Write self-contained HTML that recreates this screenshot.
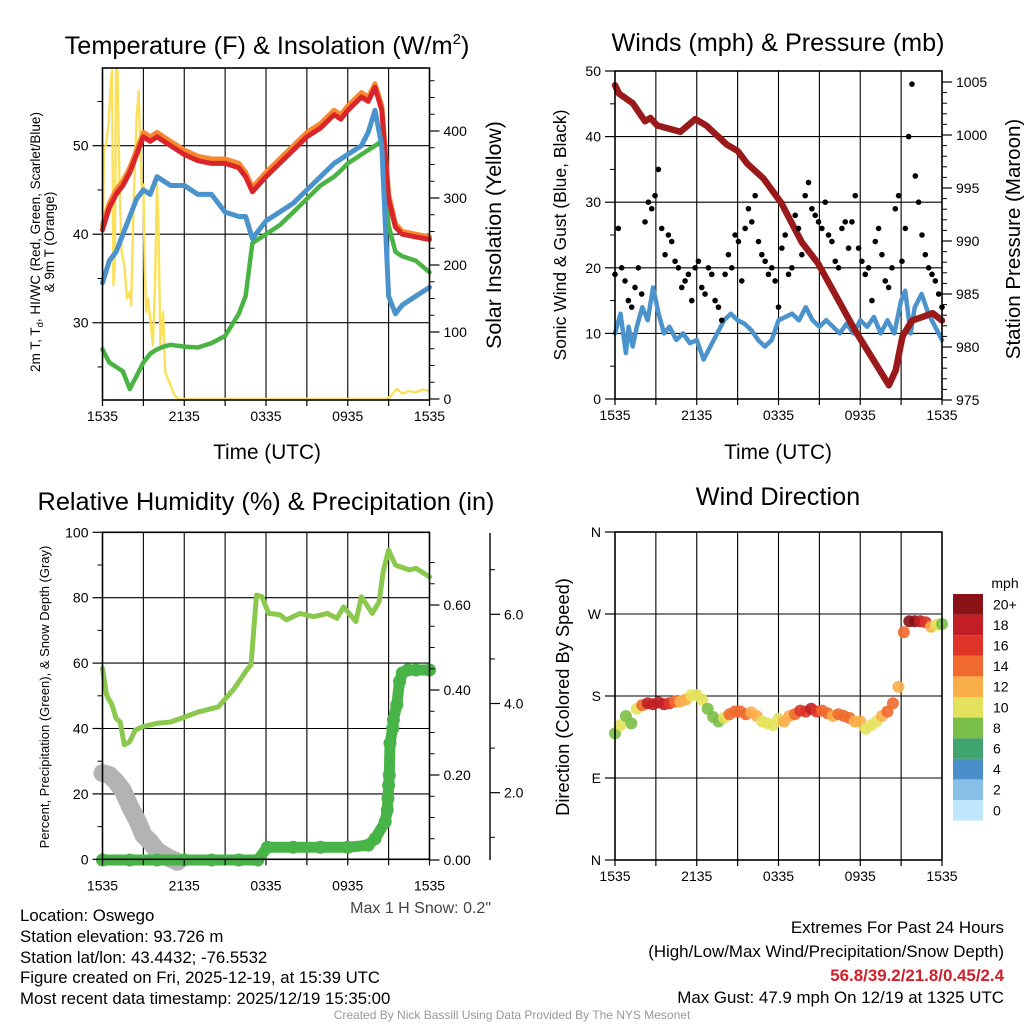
<!DOCTYPE html>
<html><head><meta charset="utf-8"><title>Oswego Meteogram</title>
<style>
html,body{margin:0;padding:0;background:#fff;}
svg{display:block;font-family:"Liberation Sans",Arial,sans-serif;}
</style></head>
<body>
<svg id="chart" width="1024" height="1024" viewBox="0 0 1024 1024" xmlns="http://www.w3.org/2000/svg">
<defs>
<clipPath id="clip1"><rect x="102.5" y="68" width="327" height="332"/></clipPath>
</defs>
<rect x="0" y="0" width="1024" height="1024" fill="#fff"/>
<g id="g1"></g>
<g id="g2"></g>
<g id="g3"></g>
<g id="g4"></g>

<text x="267" y="54" font-size="25.3" text-anchor="middle">Temperature (F) &amp; Insolation (W/m<tspan dy="-10" font-size="15">2</tspan><tspan dy="10">)</tspan></text>
<text x="778" y="51" font-size="25.2" text-anchor="middle">Winds (mph) &amp; Pressure (mb)</text>
<text x="266" y="510" font-size="25.3" text-anchor="middle">Relative Humidity (%) &amp; Precipitation (in)</text>
<text x="778" y="505" font-size="25.3" text-anchor="middle">Wind Direction</text>

<text x="267" y="459" font-size="20.8" text-anchor="middle">Time (UTC)</text>
<text x="778" y="459" font-size="20.8" text-anchor="middle">Time (UTC)</text>

<text transform="translate(40,242) rotate(-90)" font-size="13.5" text-anchor="middle">2m T, T<tspan font-size="9.5" dy="3">d</tspan><tspan dy="-3">, HI/WC (Red, Green, Scarlet/Blue)</tspan></text>
<text transform="translate(54,242) rotate(-90)" font-size="13.5" text-anchor="middle">&amp; 9m T (Orange)</text>
<text transform="translate(501,235) rotate(-90)" font-size="21.3" text-anchor="middle">Solar Insolation (Yellow)</text>
<text transform="translate(566,235) rotate(-90)" font-size="17.5" text-anchor="middle">Sonic Wind &amp; Gust (Blue, Black)</text>
<text transform="translate(1020,239) rotate(-90)" font-size="20.5" text-anchor="middle">Station Pressure (Maroon)</text>
<text transform="translate(49,697) rotate(-90)" font-size="13" text-anchor="middle">Percent, Precipitation (Green), &amp; Snow Depth (Gray)</text>
<text transform="translate(569,697) rotate(-90)" font-size="18.3" text-anchor="middle">Direction (Colored By Speed)</text>

<text x="491" y="913" font-size="16" fill="#444" text-anchor="end">Max 1 H Snow: 0.2"</text>

<g font-size="16.8">
<text x="20" y="921">Location: Oswego</text>
<text x="20" y="942">Station elevation: 93.726 m</text>
<text x="20" y="963">Station lat/lon: 43.4432; -76.5532</text>
<text x="20" y="983">Figure created on Fri, 2025-12-19, at 15:39 UTC</text>
<text x="20" y="1004">Most recent data timestamp: 2025/12/19 15:35:00</text>
</g>
<g font-size="16.9" text-anchor="end">
<text x="1004" y="933">Extremes For Past 24 Hours</text>
<text x="1004" y="957">(High/Low/Max Wind/Precipitation/Snow Depth)</text>
<text x="1004" y="981" fill="#d0202a" font-weight="bold">56.8/39.2/21.8/0.45/2.4</text>
<text x="1004" y="1003">Max Gust: 47.9 mph On 12/19 at 1325 UTC</text>
</g>
<text x="512" y="1019" font-size="12" fill="#999" text-anchor="middle">Created By Nick Bassill Using Data Provided By The NYS Mesonet</text>
</svg>
<script>
// ---------- DATA ----------
const timeLabels = ["1535","2135","0335","0935","1535"];
// Panel 1 (hours since start, values)
const tempHours = [0,0.5,1,1.5,2,2.5,3,3.5,4,4.5,5,6,7,8,9,10,10.5,11,12,13,14,15,16,17,17.5,18,19,19.5,20,20.5,21,21.5,22,23,24];
const tempRed   = [40.5,43,44.5,45.5,47,49,51,50.5,51,50.5,50,49,48.3,48,48,47.5,46.5,44.8,46.5,48,49.5,51,52,53.5,53,54,55.5,55,56.6,54,44,40.8,40,39.7,39.4];
const tempOrange= [41,43.5,45,46,47.5,49.5,51.5,51,51.5,51,50.5,49.5,48.8,48.5,48.5,48,47,45.3,47,48.5,50,51.5,52.5,54,53.5,54.5,56,55.5,57,54.5,44.5,41.2,40.3,40,39.7];
const tempBlue  = [34.5,37,38,40,42,44,45,44.5,46.5,46,45.5,45.5,44.5,44.5,42.5,42,42,39.5,41.5,42.5,43.5,45,46.5,48,48.5,49,50,51.5,54,50,33,31,32,33,34];
const tempGreen = [27,25.5,25,24.5,22.5,24,25.5,26.5,27,27.3,27.5,27.3,27.2,27.7,28.5,31,33,39,40,41,42.5,44,45.5,46.5,47.2,48,49,49.5,50,50.5,41,38,37.5,37,35.7];
const solarHours = [0,0.1,0.25,0.45,0.6,0.7,0.8,0.9,1.0,1.1,1.25,1.4,1.6,1.8,2.0,2.1,2.3,2.5,2.65,2.8,2.9,3.0,3.1,3.2,3.35,3.5,3.7,3.85,4.0,4.1,4.25,4.45,4.6,4.9,5.3,5.6,20.8,21.2,21.6,22,22.5,23,23.5,24];
const solarVals  = [190,370,380,410,470,490,170,200,495,490,320,220,200,150,160,140,300,420,460,360,310,320,200,130,150,120,80,170,320,260,80,130,40,25,5,0,0,5,15,8,12,10,14,12];
const tempTicks = [30,40,50];
const solarTicks = [0,100,200,300,400];
// Panel 2
const presHours = [0,0.3,1.3,2.2,2.6,3.1,4.8,5.9,6.7,8.2,9,9.7,10.9,12.2,13.7,14.9,16.1,17.6,19.1,20.1,20.6,21.1,21.8,22.5,23.3,24];
const presVals  = [1004.7,1003.9,1003.0,1001.3,1001.6,1000.9,1000.3,1001.5,1000.9,999.1,998.5,997.3,995.9,993.6,989.9,987.9,985.1,981.6,978.5,976.4,977.8,981.0,982.5,982.8,983.2,982.5];
const windHours = [0,0.4,0.8,1.0,1.3,1.6,2.0,2.4,2.8,3.2,3.6,4.0,4.5,5.0,5.5,6.0,6.5,7.0,7.5,8.0,8.5,9.0,9.5,10.0,10.5,11.0,11.5,12,12.5,13,13.5,14,14.5,15,15.5,16,16.5,17,17.5,18,18.5,19,19.5,20,20.5,21,21.3,21.7,22,22.5,23,23.5,24];
const windVals  = [10,13,7,11,8,11,14,12,17,13,10,11,9,10,8.5,9,6,8,10,12,13,12,11.5,10.5,9,8,9,12,12.5,13,12,14,12,11,12,11,10,11.5,10,12,11,12.5,10,12,10,15,16.5,10,14,16,13,11,9];
const gustVals  = [19,26,20,18,15,14,17,20,16,27,30,29,31,35,26,22,25,24,21,20,17,18,19,15,20,21,17,16,20,19,15,14,12,19,22,20,25,24,18,26,29,27,31,24,22,21,19,20,18,14,23,25,19,20,28,26,22,31,33,29,28,27,26,30,25,24,21,20,26,27,23,27,31,23,21,19,20,15,24,26,22,18,17,20,29,31,21,26,40,48,34,30,25,22,20,19,18,16,14];
const windTicks = [0,10,20,30,40,50];
const presTicks = [975,980,985,990,995,1000,1005];
// Panel 3
const rhHours = [0,0.3,0.7,1.0,1.3,1.6,2,2.4,3,4,5,6,7,8.5,9.7,10.5,10.9,11.3,11.7,12.2,13,13.5,14.5,15.5,16.5,17.2,17.7,18.6,19,19.8,20.3,20.6,21,21.5,22.5,23,24];
const rhVals  = [58.4,50.2,47.2,43.1,42,35,36,39.5,40.6,41.6,42,43.5,45,46.6,52.4,57.4,59.5,80.8,80.3,75.2,74.8,73.2,75.2,74.2,75.2,73.7,77.2,72.7,80.3,75.2,78.8,88,94.6,90,88.5,89,86.4];
const precipHours = [0,2,4,6,8,10,11.4,12.1,14,16,18,19.5,20.0,20.75,20.9,20.95,21.0,21.05,21.1,21.3,21.35,21.6,21.8,22.0,22.4,23,24];
const precipVals  = [0,0,0,0,0,0,0,0.03,0.03,0.03,0.03,0.035,0.05,0.09,0.118,0.145,0.176,0.2,0.275,0.31,0.33,0.365,0.42,0.44,0.447,0.447,0.447];
const snowHours = [0,0.5,1.0,1.5,2,2.6,3,3.5,4,4.8,5.5];
const snowVals  = [2.44,2.4,2.25,2.05,1.7,1.35,1.05,0.9,0.7,0.55,0.45];
const rhTicks = [0,20,40,60,80,100];
const precipTicks = [0,0.2,0.4,0.6];
const snowTicks = [2,4,6];
// Panel 4
const dirVals = [139,148,158,150,166,170,172,171,173,171,172,174,174,176,181,181,176,166,157,152,156,160,163,163,160,162,158,152,150,148,155,152,158,160,164,163,166,163,164,161,158,160,158,156,152,152,144,148,152,158,163,172,190,250,262,262,262,261,256,258,259];
const dirSpeeds = [8,9,7,8,10,13,17,18,17,18,16,14,12,12,10,9,10,7,7,8,9,13,14,14,13,12,12,10,10,9,10,11,12,13,15,16,18,16,14,13,12,13,14,13,12,11,10,9,10,12,14,13,11,14,20,19,17,15,12,10,8];
const dirLabels = ["N","E","S","W","N"];
const speedBins = ["0","2","4","6","8","10","12","14","16","18","20+"];
const speedColors = ["#bfe6fa","#86c0e6","#4a8fc9","#3fa46d","#7abf47","#e4e25c","#f9ae48","#ef6a2c","#de3428","#c11f25","#8a1217"];

// ---------- HELPERS ----------
const NS="http://www.w3.org/2000/svg";
function mk(tag, attrs, parent){const e=document.createElementNS(NS,tag);for(const k in attrs)e.setAttribute(k,attrs[k]);parent.appendChild(e);return e;}
function scale(d0,d1,r0,r1){return v=>r0+(v-d0)*(r1-r0)/(d1-d0);}
function pathFrom(xs,ys,fx,fy){return xs.map((x,i)=>(i?"L":"M")+fx(x).toFixed(1)+","+fy(ys[i]).toFixed(1)).join("");}

function frame(g, X0,Y0,X1,Y1, yVals, fy){
  for(let h=3;h<24;h+=3){
    const x=X0+(X1-X0)*h/24;
    const l=mk("line",{x1:x,y1:Y0,x2:x,y2:Y1,stroke:"#000","stroke-width":1.1},g);
    
    
  }
  yVals.forEach(v=>{
    const y=fy(v);
    const l=mk("line",{x1:X0,y1:y,x2:X1,y2:y,stroke:"#000","stroke-width":1.1},g);
    
    
  });
}
function border(g,X0,Y0,X1,Y1){
  const r=mk("rect",{x:X0,y:Y0,width:X1-X0,height:Y1-Y0,fill:"none",stroke:"#000","stroke-width":1.6},g);
  
  
}
function xAxis(g,X0,X1,Yb,off){
  for(let h=0;h<=24;h+=3){
    const x=X0+(X1-X0)*h/24;
    mk("line",{x1:x,y1:Yb,x2:x,y2:Yb+6,stroke:"#000","stroke-width":1.2},g);
  }
  timeLabels.forEach((t,i)=>{
    const x=X0+(X1-X0)*i*6/24;
    const tx=mk("text",{x:x,y:Yb+(off||21),"font-size":14,"text-anchor":"middle"},g);
    tx.textContent=t;
    
    
  });
}
function yAxisTicks(g,X,vals,fy,side,labels,minor,fs){
  const dir=side==="left"?-1:1;
  if(minor) minor.forEach(v=>{const y=fy(v);mk("line",{x1:X,y1:y,x2:X+dir*5,y2:y,stroke:"#000","stroke-width":1},g);});
  vals.forEach((v,i)=>{
    const y=fy(v);
    mk("line",{x1:X,y1:y,x2:X+dir*10,y2:y,stroke:"#000","stroke-width":1.2},g);
    const tx=mk("text",{x:X+dir*14,y:y+5,"font-size":fs||14,"text-anchor":side==="left"?"end":"start"},g);
    tx.textContent=labels[i];
    
    
  });
}
function line(g,xs,ys,fx,fy,color,w,name){
  const p=mk("path",{d:pathFrom(xs,ys,fx,fy),fill:"none",stroke:color,"stroke-width":w,"stroke-linejoin":"round","stroke-linecap":"round"},g);
  
  
  return p;
}

// ---------- PANEL 1 ----------
(function(){
  const g=document.getElementById("g1");
  const X0=102.5,X1=429.5,Y0=68,Y1=400;
  const fx=scale(0,24,X0,X1);
  const fy=scale(30,40,322.7,234.2);
  const fs=scale(0,100,399,332);
  frame(g,X0,Y0,X1,Y1,tempTicks,fy);
  const sl=line(g,solarHours,solarVals,fx,fs,"#fbe05a",2.4,"solar-insolation-line");
  sl.setAttribute("clip-path","url(#clip1)");
  line(g,tempHours,tempGreen,fx,fy,"#4ab443",4.5,"heat-index-wind-chill-line");
  line(g,tempHours,tempOrange,fx,fy,"#f7882f",5,"temp-9m-line");
  line(g,tempHours,tempRed,fx,fy,"#d9252a",5,"temp-2m-line");
  line(g,tempHours,tempBlue,fx,fy,"#4b93cc",5,"dewpoint-line");
  border(g,X0,Y0,X1,Y1);
  xAxis(g,X0,X1,Y1);
  yAxisTicks(g,X0,tempTicks,fy,"left",tempTicks.map(String),[25,35,45,55]);
  const minorS=[];for(let s=25;s<=475;s+=25)if(s%100)minorS.push(s);
  yAxisTicks(g,X1,solarTicks,fs,"right",solarTicks.map(String),minorS);
})();

// ---------- PANEL 2 ----------
(function(){
  const g=document.getElementById("g2");
  const X0=615,X1=942,Y0=71,Y1=399;
  const fx=scale(0,24,X0,X1);
  const fy=scale(0,50,Y1,Y0);
  const fp=scale(975,1005,400,82);
  frame(g,X0,Y0,X1,Y1,windTicks.slice(1,5),fy);
  line(g,windHours,windVals,fx,fy,"#4b93cc",4.5,"sustained-wind-line");
  line(g,presHours,presVals,fx,fp,"#9a1a1c",6.5,"pressure-line");
  const n=gustVals.length;
  gustVals.forEach((v,i)=>{
    const c=mk("circle",{cx:fx(i*24/(n-1)),cy:fy(v),r:2.8,fill:"#000"},g);
    
    
  });
  border(g,X0,Y0,X1,Y1);
  xAxis(g,X0,X1,Y1);
  yAxisTicks(g,X0,windTicks,fy,"left",windTicks.map(String),[5,15,25,35,45]);
  const mp=[];for(let p=976;p<=1005;p++)if(p%5)mp.push(p);
  yAxisTicks(g,X1,presTicks,fp,"right",presTicks.map(String),mp);
})();

// ---------- PANEL 3 ----------
(function(){
  const g=document.getElementById("g3");
  const X0=102.5,X1=429.5,Y0=532.3,Y1=859.3;
  const fx=scale(0,24,X0,X1);
  const fy=scale(0,100,Y1,Y0);
  const fp=scale(0,0.6,860,605);
  const fsn=scale(2,6,792.7,614.3);
  frame(g,X0,Y0,X1,Y1,rhTicks.slice(1,5),fy);
  line(g,snowHours,snowVals,fx,fsn,"#b3b3b3",18,"snow-depth-line");
  line(g,rhHours,rhVals,fx,fy,"#8bc94e",5,"relative-humidity-line");
  line(g,precipHours,precipVals,fx,fp,"#48b347",11,"precipitation-line");
  precipHours.forEach((h,i)=>{
    const c=mk("circle",{cx:fx(h),cy:fp(precipVals[i]),r:6.5,fill:"#48b347"},g);
    
    
  });
  border(g,X0,Y0,X1,Y1);
  xAxis(g,X0,X1,Y1,31);
  yAxisTicks(g,X0,rhTicks,fy,"left",rhTicks.map(String),[10,30,50,70,90]);
  const mpp=[];for(let p=0.05;p<0.75;p+=0.05){if(Math.abs(p*5-Math.round(p*5))>0.01)mpp.push(p);}
  yAxisTicks(g,X1,precipTicks,fp,"right",precipTicks.map(v=>v.toFixed(2)),mpp);
  const ax=mk("line",{x1:490,y1:533,x2:490,y2:860,stroke:"#000","stroke-width":1.4},g);
  
  
  yAxisTicks(g,490,snowTicks,fsn,"right",snowTicks.map(v=>v.toFixed(1)),[0,1,3,5,7].filter(v=>fsn(v)>533&&fsn(v)<860));
})();

// ---------- PANEL 4 ----------
(function(){
  const g=document.getElementById("g4");
  const X0=615,X1=942,Y0=532,Y1=860;
  const fx=scale(0,24,X0,X1);
  const fy=scale(0,360,Y1,Y0);
  frame(g,X0,Y0,X1,Y1,[90,180,270],fy);
  const n=dirVals.length;
  dirVals.forEach((d,i)=>{
    const bin=Math.min(10,Math.max(0,Math.round(dirSpeeds[i]/2)));
    const c=mk("circle",{cx:fx(i*24/(n-1)),cy:fy(d),r:6,fill:speedColors[bin],"fill-opacity":0.9},g);
    
    
  });
  border(g,X0,Y0,X1,Y1);
  xAxis(g,X0,X1,Y1);
  yAxisTicks(g,X0,[0,90,180,270,360],fy,"left",dirLabels,null,14);
  const cb=mk("g",{},g);
  
  
  const t=mk("text",{x:1005,y:588,"font-size":14,"text-anchor":"middle"},cb);
  t.textContent="mph";
  
  
  const top=594,bh=20.6;
  speedBins.forEach((lab,i)=>{
    const y=top+(10-i)*bh;
    const r=mk("rect",{x:953,y:y,width:30,height:bh,fill:speedColors[i]},cb);
    
    
    const tx=mk("text",{x:993,y:y+bh/2+5,"font-size":14},cb);
    tx.textContent=lab;
    
    
  });
})();
</script>
</body></html>
